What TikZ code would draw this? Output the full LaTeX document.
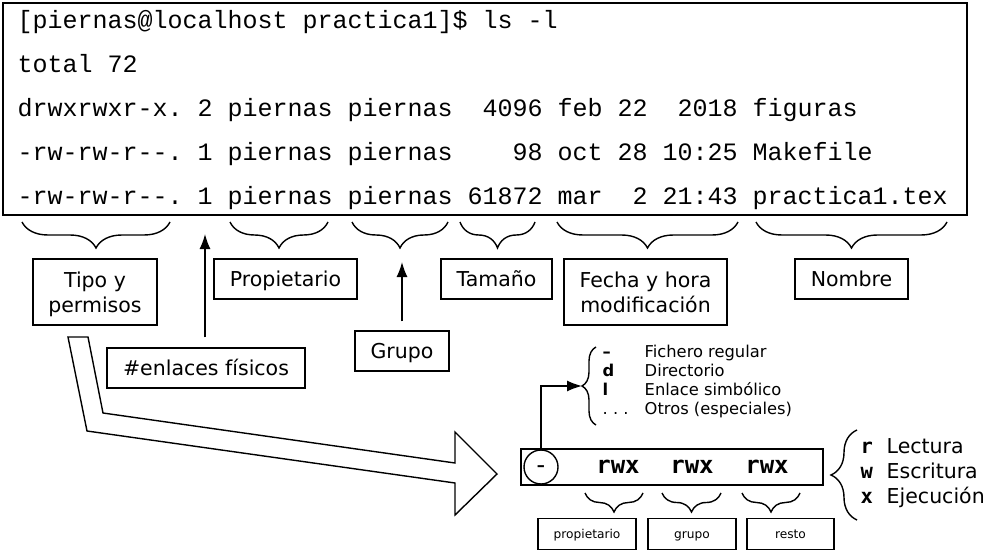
\documentclass[tikz,border=0pt]{standalone}
\usepackage{fontspec}
\setmainfont{DejaVu Sans}
\setmonofont{Liberation Mono}
\newfontfamily\permfont{DejaVu Sans Mono}
\usetikzlibrary{decorations.pathreplacing,arrows.meta}
\frenchspacing

\begin{document}
\begin{tikzpicture}[x=1pt, y=-1pt, line width=1.4pt]
        \tikzstyle{caja}=[draw, font=\fontsize{20.5}{25}\selectfont, align=center, minimum height=40pt, inner sep=0pt, text height=15pt, text depth=0pt]
        \tikzstyle{cajados}=[caja, minimum height=66pt, text height=40pt]
        \tikzstyle{cajita}=[draw, font=\fontsize{12.2}{14}\selectfont, minimum height=31pt, inner sep=0pt, text height=9pt, text depth=0pt]
        \tikzstyle{linea}=[anchor=base west, inner sep=0pt, font=\ttfamily\fontsize{25}{30}\selectfont]
        \tikzstyle{leyenda}=[anchor=base west, inner sep=0pt, font=\fontsize{16.3}{19}\selectfont]
        \tikzstyle{flecha}=[-{Latex[length=15pt, width=11pt]}]

        \useasboundingbox (0,0) rectangle (984,553);

        \node (terminal) [draw, line width=2pt, minimum width=964pt, minimum height=212pt, inner sep=0pt] at (485,109) {};
        \node (l0) [linea] at (17,29) {[piernas@localhost practica1]\$ ls -l};
        \node (l1) [linea] at (17,73) {total 72};
        \node (l2) [linea] at (17,117) {drwxrwxr-x. 2 piernas piernas~~4096 feb 22~~2018 figuras};
        \node (l3) [linea] at (17,161) {-rw-rw-r--. 1 piernas piernas~~~~98 oct 28 10:25 Makefile};
        \node (l4) [linea] at (17,205) {-rw-rw-r--. 1 piernas piernas 61872 mar~~2 21:43 practica1.tex};

        \draw[decorate, decoration={brace, amplitude=26pt}] (170,222) -- (22,222);
        \draw[decorate, decoration={brace, amplitude=26pt}] (328,222) -- (230,222);
        \draw[decorate, decoration={brace, amplitude=26pt}] (448,222) -- (352,222);
        \draw[decorate, decoration={brace, amplitude=26pt}] (535,222) -- (460,222);
        \draw[decorate, decoration={brace, amplitude=26pt}] (738,222) -- (557,222);
        \draw[decorate, decoration={brace, amplitude=26pt}] (947,222) -- (756,222);

        \node (tipoperm)    [cajados, minimum width=124pt] at (95,292) {Tipo y\\permisos};
        \node (propietario) [caja, minimum width=143pt] at (285.5,279) {Propietario};
        \node (tamano)      [caja, minimum width=111pt] at (496.5,279) {Tamaño};
        \node (fecha)       [cajados, minimum width=163pt] at (645.5,292) {Fecha y hora\\modificación};
        \node (nombre)      [caja, minimum width=113pt] at (851.5,279) {Nombre};
        \node (enlaces)     [caja, minimum width=198pt] at (206,368) {\#enlaces físicos};
        \node (grupo)       [caja, minimum width=94pt] at (402,351) {Grupo};

        \coordinate (enlacesfin) at (205,234);
        \coordinate (grupofin) at (402,262);
        \draw[flecha, shorten <=10pt] (enlaces.north -| enlacesfin) -- (enlacesfin);
        \draw[flecha, shorten <=9pt] (grupo.north) -- (grupofin);

        \draw (68,337) -- (88,337) -- (103,413) -- (455,463) -- (455,432) -- (497,474)
              -- (455,515) -- (455,483) -- (87,431) -- cycle;

        \node (permisos) [draw, minimum width=302pt, minimum height=36pt, inner sep=0pt] at (672,467) {};
        \node (tipo) [draw, circle, minimum size=34pt, inner sep=0pt, text height=13.5pt, text depth=0pt, font=\permfont\fontsize{25}{28}\selectfont] at (541,467) {-};
        \foreach \x/\n in {618/pu, 692/pg, 767/po}
            \node (\n) [anchor=base, inner sep=0pt, font=\permfont\bfseries\fontsize{24}{28}\selectfont] at (\x,473) {rwx};

        \draw[decorate, decoration={brace, amplitude=19pt}] (643,493) -- (585,493);
        \draw[decorate, decoration={brace, amplitude=19pt}] (721,493) -- (662,493);
        \draw[decorate, decoration={brace, amplitude=19pt}] (800,493) -- (742,493);

        \node (cprop)  [cajita, minimum width=98pt] at (587,534) {propietario};
        \node (cgrupo) [cajita, minimum width=88pt] at (692,534) {grupo};
        \node (cresto) [cajita, minimum width=87pt] at (790.5,534) {resto};

        \draw[decorate, decoration={brace, amplitude=14pt}] (596,425) -- (596,347);
        \coordinate (tipos) at (582,386);
        \draw[flecha] (tipo.north) |- (tipos);

        \foreach \s/\t/\y [count=\i] in {\textbf{–}/Fichero regular/357, \textbf{d}/Directorio/376,
                                          \textbf{l}/Enlace simbólico/395, {. . .}/Otros (especiales)/414} {
            \node (sim\i)  [leyenda] at (602,\y) {\s};
            \node (desc\i) [leyenda] at (644,\y) {\t};
        }

        \draw[decorate, decoration={brace, amplitude=26pt}] (857,520) -- (857,430);
        \foreach \s/\t/\y [count=\i] in {r/Lectura/453, w/Escritura/478, x/Ejecución/503} {
            \node (bit\i)  [anchor=base west, inner sep=0pt, font=\permfont\bfseries\fontsize{20.5}{24}\selectfont] at (860,\y) {\s};
            \node (modo\i) [anchor=base west, inner sep=0pt, font=\fontsize{20.5}{24}\selectfont] at (886,\y) {\t};
        }
\end{tikzpicture}
\end{document}
